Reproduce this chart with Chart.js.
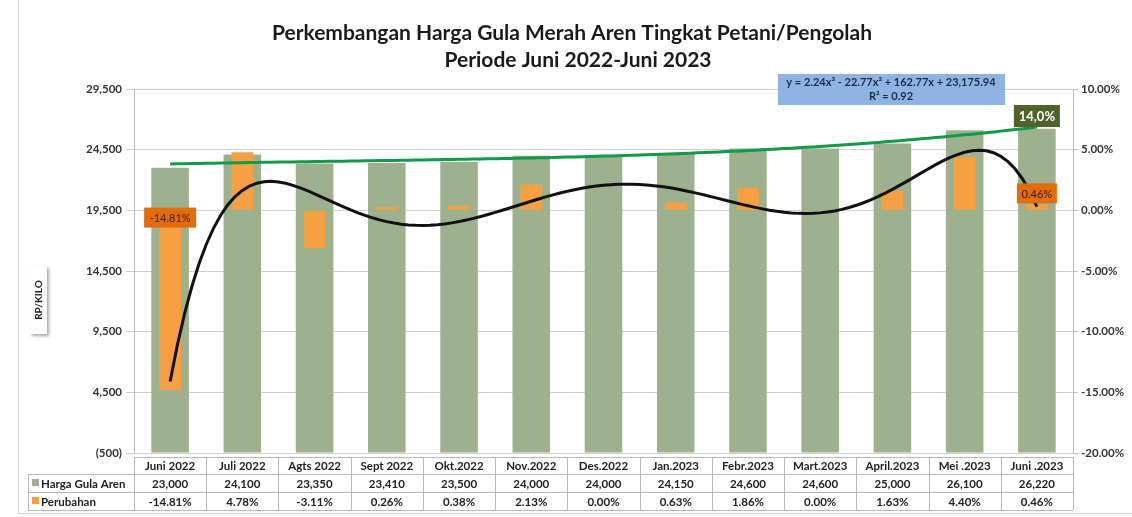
<!DOCTYPE html>
<html>
<head>
<meta charset="utf-8">
<script src="https://cdn.jsdelivr.net/npm/chart.js@4/dist/chart.umd.min.js"></script>
<style>
body{margin:0;background:#fff}
#wrap{position:relative;width:1132px;height:517px}
</style>
</head>
<body>
<div id="wrap"><canvas id="grafik" width="1132" height="517"></canvas></div>
<script>
let bulan = ["Juni 2022","Juli 2022","Agts 2022","Sept 2022","Okt.2022","Nov.2022","Des.2022","Jan.2023","Febr.2023","Mart.2023","April.2023","Mei .2023","Juni .2023"];
let harga = [23000,24100,23350,23410,23500,24000,24000,24150,24600,24600,25000,26100,26220];
let perubahan = [-14.81,4.78,-3.11,0.26,0.38,2.13,0.00,0.63,1.86,0.00,1.63,4.40,0.46];
let labelHarga = ["23,000","24,100","23,350","23,410","23,500","24,000","24,000","24,150","24,600","24,600","25,000","26,100","26,220"];
let labelPerubahan = ["-14.81%","4.78%","-3.11%","0.26%","0.38%","2.13%","0.00%","0.63%","1.86%","0.00%","1.63%","4.40%","0.46%"];
// koefisien trendline harga (x^3, x^2, x, konstanta), x = 1..13
let trenHarga = [2.24, -22.77, 162.77, 23175.94];
let teksTren = ["y = 2.24x\u00b3 - 22.77x\u00b2 + 162.77x + 23,175.94", "R\u00b2 = 0.92"];
let ticksKiri = [-500, 4500, 9500, 14500, 19500, 24500, 29500];
let ticksKanan = [-20, -15, -10, -5, 0, 5, 10];

const FONT = "Lato, 'Liberation Sans', sans-serif";

/* regresi polinomial (seperti trendline excel) untuk garis hitam perubahan */
function polyFit(ys, deg) {
  let n = deg + 1;
  let A = [], b = [];
  for (let r = 0; r < n; r++) { A.push(new Array(n).fill(0)); b.push(0); }
  ys.forEach((y, i) => {
    let t = i - 6;
    for (let r = 0; r < n; r++) {
      for (let c = 0; c < n; c++) A[r][c] += Math.pow(t, r + c);
      b[r] += y * Math.pow(t, r);
    }
  });
  for (let k = 0; k < n; k++) {
    let p = k;
    for (let r = k + 1; r < n; r++) if (Math.abs(A[r][k]) > Math.abs(A[p][k])) p = r;
    [A[k], A[p]] = [A[p], A[k]];
    [b[k], b[p]] = [b[p], b[k]];
    for (let r = k + 1; r < n; r++) {
      let f = A[r][k] / A[k][k];
      for (let c = k; c < n; c++) A[r][c] -= f * A[k][c];
      b[r] -= f * b[k];
    }
  }
  let coef = new Array(n).fill(0);
  for (let k = n - 1; k >= 0; k--) {
    let s = b[k];
    for (let c = k + 1; c < n; c++) s -= A[k][c] * coef[c];
    coef[k] = s / A[k][k];
  }
  return coef;
}

let coefPerubahan = polyFit(perubahan, 6);
let garisTrenHarga = [];
let garisTrenPerubahan = [];
for (let i = 0; i <= 120; i++) {
  let x = i / 10;
  let xe = x + 1;
  garisTrenHarga.push({x: x, y: trenHarga[0]*xe*xe*xe + trenHarga[1]*xe*xe + trenHarga[2]*xe + trenHarga[3]});
  let t = x - 6, y = 0;
  for (let k = 0; k < coefPerubahan.length; k++) y += coefPerubahan[k] * Math.pow(t, k);
  garisTrenPerubahan.push({x: x, y: y});
}

function kotak(ctx, cx, cy, w, h, bg, teks, warna, font) {
  ctx.fillStyle = bg;
  ctx.fillRect(cx - w/2, cy - h/2, w, h);
  ctx.fillStyle = warna;
  ctx.font = font;
  ctx.textAlign = "center";
  ctx.textBaseline = "middle";
  ctx.fillText(teks, cx, cy + 1);
}

let hiasan = {
  id: "hiasan",
  afterDraw(chart) {
    let ctx = chart.ctx;
    let ca = chart.chartArea;
    let sx = chart.scales.x, sy = chart.scales.y, sy1 = chart.scales.y1;
    ctx.save();

    // bingkai
    ctx.strokeStyle = "#d4d4d4";
    ctx.lineWidth = 1;
    ctx.strokeRect(18.5, -2, 1200, 515.5);

    // judul
    ctx.fillStyle = "#1a1a1a";
    ctx.font = "bold 21px " + FONT;
    ctx.textAlign = "center";
    ctx.textBaseline = "middle";
    ctx.fillText("Perkembangan Harga Gula Merah Aren Tingkat Petani/Pengolah", 572, 33);
    ctx.fillText("Periode Juni 2022-Juni 2023", 578, 60);

    // judul sumbu kiri
    ctx.save();
    ctx.shadowColor = "rgba(0,0,0,0.35)";
    ctx.shadowOffsetX = 2; ctx.shadowOffsetY = 2; ctx.shadowBlur = 3;
    ctx.fillStyle = "#fff";
    ctx.fillRect(30, 266, 17, 68);
    ctx.restore();
    ctx.save();
    ctx.translate(39, 300);
    ctx.rotate(-Math.PI / 2);
    ctx.fillStyle = "#222";
    ctx.font = "bold 10px " + FONT;
    ctx.fillText("RP/KILO", 0, 0);
    ctx.restore();

    // tabel data
    let w = ca.width / bulan.length;
    let t0 = ca.bottom + 4, t1 = t0 + 17, t2 = t1 + 18, t3 = t2 + 18;
    ctx.strokeStyle = "#b8b8b8";
    ctx.lineWidth = 1;
    ctx.beginPath();
    ctx.moveTo(ca.left, t0 + 0.5); ctx.lineTo(ca.right, t0 + 0.5);
    ctx.moveTo(28, t1 + 0.5); ctx.lineTo(ca.right, t1 + 0.5);
    ctx.moveTo(28, t2 + 0.5); ctx.lineTo(ca.right, t2 + 0.5);
    ctx.moveTo(28, t3 + 0.5); ctx.lineTo(ca.right, t3 + 0.5);
    ctx.moveTo(28.5, t1); ctx.lineTo(28.5, t3);
    for (let i = 0; i <= bulan.length; i++) {
      let x = Math.round(ca.left + i * w) + 0.5;
      ctx.moveTo(x, t0); ctx.lineTo(x, t3);
    }
    ctx.stroke();

    ctx.textAlign = "center";
    ctx.textBaseline = "middle";
    ctx.fillStyle = "#222";
    ctx.font = "bold 11.5px " + FONT;
    for (let i = 0; i < bulan.length; i++) {
      let cx = sx.getPixelForValue(i);
      ctx.fillText(bulan[i], cx, (t0 + t1) / 2 + 1);
      ctx.fillText(labelHarga[i], cx, (t1 + t2) / 2 + 1);
      ctx.fillText(labelPerubahan[i], cx, (t2 + t3) / 2 + 1);
    }
    ctx.textAlign = "left";
    ctx.fillStyle = chart.data.datasets[3].backgroundColor;
    ctx.fillRect(32, (t1 + t2) / 2 - 4, 7, 7);
    ctx.fillStyle = chart.data.datasets[2].backgroundColor;
    ctx.fillRect(32, (t2 + t3) / 2 - 4, 7, 7);
    ctx.fillStyle = "#222";
    ctx.fillText("Harga Gula Aren", 41, (t1 + t2) / 2 + 1);
    ctx.fillText("Perubahan", 41, (t2 + t3) / 2 + 1);

    // label data
    kotak(ctx, sx.getPixelForValue(0), sy1.getPixelForValue(-0.6), 52, 20, "#E46C0A", labelPerubahan[0], "#3a1a00", "11px " + FONT);
    kotak(ctx, sx.getPixelForValue(12), sy1.getPixelForValue(1.4), 40, 20, "#E46C0A", labelPerubahan[12], "#3a1a00", "11px " + FONT);
    let akhir = garisTrenHarga[garisTrenHarga.length - 1];
    kotak(ctx, sx.getPixelForValue(12), sy.getPixelForValue(akhir.y) - 11, 46, 22, "#4F6228", "14,0%", "#fff", "bold 13px " + FONT);

    // kotak persamaan trendline
    ctx.fillStyle = "#8DB4E2";
    ctx.fillRect(778, 74, 227, 31);
    ctx.fillStyle = "#1f2a44";
    ctx.font = "bold 11px " + FONT;
    ctx.textAlign = "center";
    ctx.fillText(teksTren[0], 891, 82);
    ctx.fillText(teksTren[1], 891, 96);

    ctx.restore();
  }
};

new Chart("grafik", {
  data: {
    labels: bulan,
    datasets: [
      {
        type: "line",
        label: "Tren Perubahan",
        data: garisTrenPerubahan,
        xAxisID: "x2",
        yAxisID: "y1",
        borderColor: "#111",
        borderWidth: 3,
        pointRadius: 0,
        order: 1
      },
      {
        type: "line",
        label: "Tren Harga",
        data: garisTrenHarga,
        xAxisID: "x2",
        yAxisID: "y",
        borderColor: "#119a48",
        borderWidth: 3,
        pointRadius: 0,
        order: 2
      },
      {
        type: "bar",
        label: "Perubahan",
        data: perubahan,
        xAxisID: "x",
        yAxisID: "y1",
        backgroundColor: "#F7A043",
        grouped: false,
        categoryPercentage: 1,
        barPercentage: 0.3,
        order: 3
      },
      {
        type: "bar",
        label: "Harga Gula Aren",
        data: harga,
        xAxisID: "x",
        yAxisID: "y",
        backgroundColor: "#9EB18E",
        base: -500,
        grouped: false,
        categoryPercentage: 1,
        barPercentage: 0.52,
        order: 4
      }
    ]
  },
  options: {
    responsive: false,
    animation: false,
    events: [],
    layout: { padding: { top: 89, bottom: 64, left: 0, right: 0 } },
    plugins: { legend: { display: false }, tooltip: { enabled: false }, title: { display: false } },
    scales: {
      x: { type: "category", offset: true, display: false },
      x2: { type: "linear", min: -0.5, max: 12.5, display: false },
      y: {
        position: "left",
        min: -500,
        max: 29500,
        afterBuildTicks: s => { s.ticks = ticksKiri.map(v => ({ value: v })); },
        afterFit: s => { s.width = 134; },
        grid: { color: "#d0d0d0", tickLength: 8 },
        border: { color: "#bdbdbd" },
        ticks: {
          color: "#333",
          padding: 4,
          font: { family: FONT, size: 11.5, weight: "bold" },
          callback: v => v < 0 ? "(" + Math.abs(v).toLocaleString("en-US") + ")" : v.toLocaleString("en-US")
        }
      },
      y1: {
        position: "right",
        min: -20,
        max: 10,
        afterBuildTicks: s => { s.ticks = ticksKanan.map(v => ({ value: v })); },
        afterFit: s => { s.width = 59; },
        grid: { drawOnChartArea: false, color: "#bdbdbd", tickLength: 5 },
        border: { color: "#bdbdbd" },
        ticks: {
          color: "#333",
          padding: 3,
          font: { family: FONT, size: 11.5, weight: "bold" },
          callback: v => v.toFixed(2) + "%"
        }
      }
    }
  },
  plugins: [hiasan]
});
</script>
</body>
</html>
